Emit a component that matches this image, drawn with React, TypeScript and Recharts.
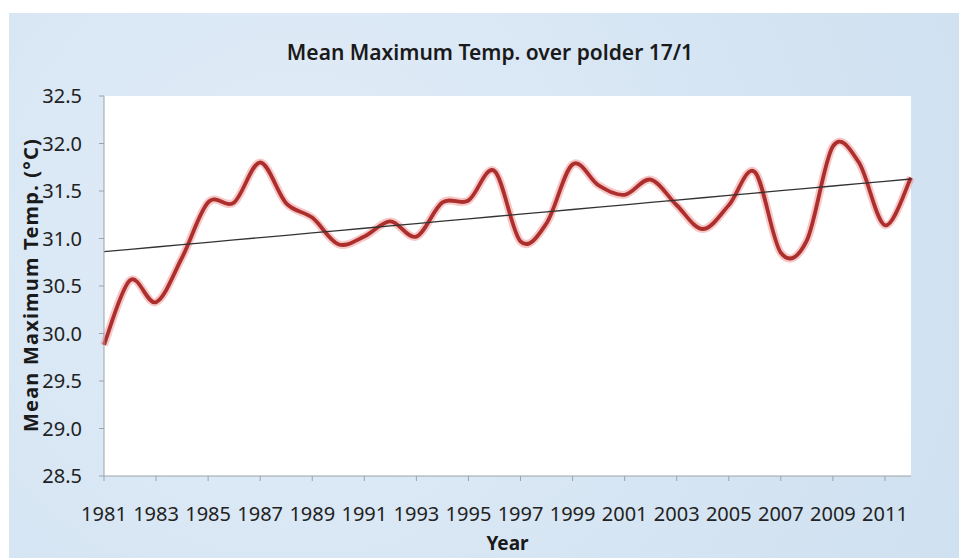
import React from 'react'
import { LineChart, Line, XAxis, YAxis, CartesianGrid } from 'recharts'

const years = [
  1981, 1982, 1983, 1984, 1985, 1986, 1987, 1988, 1989, 1990, 1991,
  1992, 1993, 1994, 1995, 1996, 1997, 1998, 1999, 2000, 2001, 2002,
  2003, 2004, 2005, 2006, 2007, 2008, 2009, 2010, 2011, 2012,
]

const meanMaxTemp = [
  29.88, 30.56, 30.33, 30.8, 31.38, 31.38, 31.8, 31.37, 31.22, 30.94, 31.02,
  31.18, 31.02, 31.38, 31.4, 31.71, 30.97, 31.16, 31.78, 31.56, 31.46, 31.62,
  31.35, 31.1, 31.35, 31.7, 30.85, 30.98, 31.97, 31.8, 31.14, 31.64,
]

const yTicks = [28.5, 29.0, 29.5, 30.0, 30.5, 31.0, 31.5, 32.0, 32.5]

const FONT = '"Noto Sans", "Open Sans", sans-serif'

// least squares trend, same as Excel's linear trendline
function linearTrend(values: number[]): number[] {
  const n = values.length
  const mx = (n - 1) / 2
  const my = values.reduce((a, b) => a + b, 0) / n
  let sxy = 0
  let sxx = 0
  values.forEach((v, i) => {
    sxy += (i - mx) * (v - my)
    sxx += (i - mx) * (i - mx)
  })
  const slope = sxy / sxx
  return values.map((_, i) => my + slope * (i - mx))
}

// Catmull-Rom style smoothing (like Excel's "smoothed line")
function smoothCurve(context: any) {
  let pts: [number, number][] = []
  return {
    areaStart() {},
    areaEnd() {},
    lineStart() {
      pts = []
    },
    point(x: number, y: number) {
      pts.push([+x, +y])
    },
    lineEnd() {
      if (!pts.length) return
      context.moveTo(pts[0][0], pts[0][1])
      for (let i = 0; i < pts.length - 1; i++) {
        const p0 = pts[i - 1] || pts[i]
        const p1 = pts[i]
        const p2 = pts[i + 1]
        const p3 = pts[i + 2] || p2
        context.bezierCurveTo(
          p1[0] + (p2[0] - p0[0]) / 6,
          p1[1] + (p2[1] - p0[1]) / 6,
          p2[0] - (p3[0] - p1[0]) / 6,
          p2[1] - (p3[1] - p1[1]) / 6,
          p2[0],
          p2[1]
        )
      }
    },
  }
}

const trend = linearTrend(meanMaxTemp)

const data = years.map((year, i) => ({
  year,
  temp: meanMaxTemp[i],
  trend: trend[i],
}))

export default function App() {
  return (
    <div
      style={{
        position: 'absolute',
        left: 0,
        top: 0,
        width: 959,
        height: 558,
        background: '#fff',
        overflow: 'hidden',
      }}
    >
      <div
        style={{
          position: 'absolute',
          left: 9,
          top: 13,
          right: 0,
          bottom: 0,
          background:
            'radial-gradient(circle at 30% 40%, #e2edf8 0%, #d6e5f3 60%, #cfe0f0 100%)',
        }}
      />
      <div
        style={{
          position: 'absolute',
          left: 0,
          top: 38,
          width: 980,
          textAlign: 'center',
          fontFamily: FONT,
          fontWeight: 600,
          fontSize: 21,
          color: '#1a1a1a',
        }}
      >
        Mean Maximum Temp. over polder 17/1
      </div>
      <div
        style={{
          position: 'absolute',
          left: 30,
          top: 285,
          transform: 'translate(-50%, -50%) rotate(-90deg)',
          whiteSpace: 'nowrap',
          fontFamily: FONT,
          fontWeight: 700,
          fontSize: 20,
          letterSpacing: 1.2,
          color: '#1a1a1a',
        }}
      >
        Mean Maximum Temp. (°C)
      </div>
      <div style={{ position: 'absolute', left: 0, top: 0 }}>
        <LineChart
          width={959}
          height={558}
          data={data}
          margin={{ top: 96, right: 48, bottom: 0, left: 0 }}
        >
          <CartesianGrid horizontal={false} vertical={false} fill="#fff" />
          <XAxis
            dataKey="year"
            interval={1}
            tickSize={5}
            tickMargin={26}
            height={82}
            stroke="#9aa3ad"
            tick={{ fill: '#222', fontSize: 20, fontFamily: FONT }}
            label={{
              value: 'Year',
              position: 'insideBottom',
              offset: 8,
              fill: '#1a1a1a',
              fontSize: 19,
              fontWeight: 700,
              fontFamily: FONT,
            }}
          />
          <XAxis
            xAxisId="top"
            dataKey="year"
            orientation="top"
            height={0}
            tick={false}
            tickLine={false}
            stroke="#a9bbd3"
          />
          <YAxis
            domain={[28.5, 32.5]}
            ticks={yTicks}
            tickFormatter={(v: number) => v.toFixed(1)}
            width={104}
            tickSize={5}
            tickMargin={17}
            stroke="#9aa3ad"
            tick={{ fill: '#222', fontSize: 20, fontFamily: FONT }}
          />
          <YAxis
            yAxisId="right"
            orientation="right"
            domain={[28.5, 32.5]}
            width={0}
            tick={false}
            tickLine={false}
            stroke="#a9bbd3"
          />
          <Line
            dataKey="temp"
            type={smoothCurve as any}
            stroke="#ef9a9a"
            strokeOpacity={0.55}
            strokeWidth={8}
            dot={false}
            activeDot={false}
            isAnimationActive={false}
          />
          <Line
            dataKey="temp"
            type={smoothCurve as any}
            stroke="#ad2f2d"
            strokeWidth={3.8}
            dot={false}
            activeDot={false}
            isAnimationActive={false}
          />
          <Line
            dataKey="trend"
            type="linear"
            stroke="#333"
            strokeWidth={1.3}
            dot={false}
            activeDot={false}
            isAnimationActive={false}
          />
        </LineChart>
      </div>
    </div>
  )
}
